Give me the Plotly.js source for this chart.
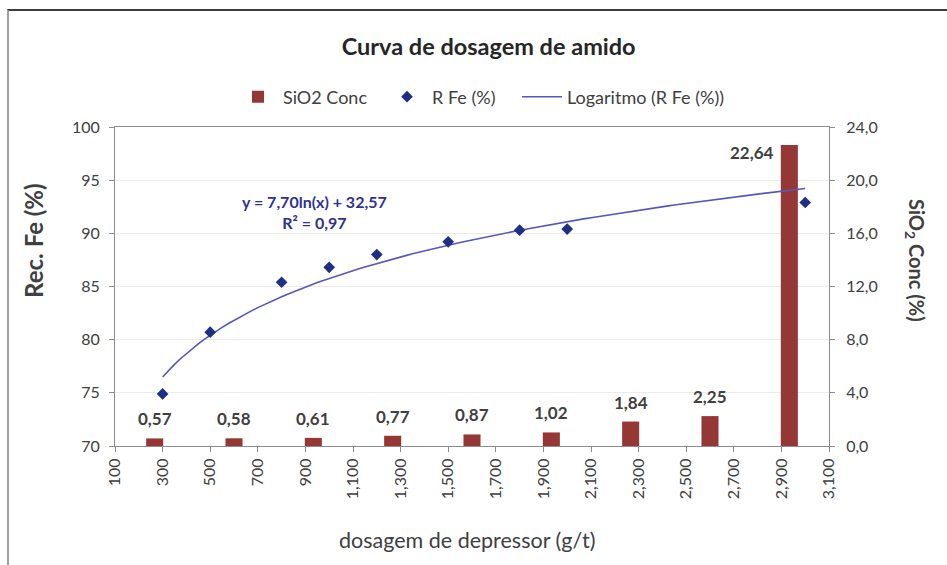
<!DOCTYPE html>
<html>
<head>
<meta charset="utf-8">
<script src="https://cdn.plot.ly/plotly-3.0.1.min.js"></script>
<style>
  html, body { margin: 0; padding: 0; background: #ffffff; }
  #chart { width: 947px; height: 565px; }
  #frame { position: absolute; left: 7px; top: 9px; width: 945px; height: 560px;
           border-top: 2px solid #3c3c3c; border-left: 2px solid #a0a0a0; pointer-events: none; }
</style>
</head>
<body>
<div id="chart"></div>
<div id="frame"></div>
<script>
// ---- data ----
const dosages = [300, 500, 800, 1000, 1200, 1500, 1800, 2000, 3000];
const recFe = [74.9, 80.7, 85.4, 86.8, 88.0, 89.2, 90.3, 90.4, 92.9];
const sio2Categories = ['300', '500', '800', '1000', '1200', '1500', '1800', '2000', '3000'];
const sio2Conc = [0.57, 0.58, 0.61, 0.77, 0.87, 1.02, 1.84, 2.25, 22.64];
// logarithmic trendline y = a*ln(x) + b (from the chart's equation)
const trendA = 7.70;
const trendB = 32.57;
const trendR2 = 0.97;
const xTickVals = [100, 300, 500, 700, 900, 1100, 1300, 1500, 1700, 1900, 2100, 2300, 2500, 2700, 2900, 3100];
const xTickText = ['100', '300', '500', '700', '900', '1,100', '1,300', '1,500', '1,700', '1,900', '2,100', '2,300', '2,500', '2,700', '2,900', '3,100'];
const y2TickVals = [0, 4, 8, 12, 16, 20, 24];
const y2TickText = ['0,0', '4,0', '8,0', '12,0', '16,0', '20,0', '24,0'];

const trendX = [];
for (let x = dosages[0]; x <= dosages[dosages.length - 1]; x += 25) trendX.push(x);
const trendY = trendX.map(x => trendA * Math.log(x) + trendB);

const FONT = 'Lato, "Open Sans", sans-serif';
const TXT = '#404040';
const comma = v => v.toFixed(2).replace('.', ',');

const traces = [
  {
    type: 'bar', name: 'SiO2 Conc', x: sio2Categories, y: sio2Conc,
    xaxis: 'x', yaxis: 'y', marker: { color: '#953735' }, legend: 'legend'
  },
  {
    type: 'scatter', mode: 'lines', name: 'Logaritmo (R Fe (%))', x: trendX, y: trendY,
    xaxis: 'x2', yaxis: 'y2', line: { color: '#5656c0', width: 1.6 }, legend: 'legend3'
  },
  {
    type: 'scatter', mode: 'markers', name: 'R Fe (%)', x: dosages, y: recFe,
    xaxis: 'x2', yaxis: 'y2', marker: { symbol: 'diamond', size: 9, color: '#1f2f86' }, legend: 'legend2'
  }
];

const annotations = sio2Categories.map((c, i) => {
  const last = i === sio2Categories.length - 1;
  return {
    xref: 'x', yref: 'y', x: i, y: sio2Conc[i],
    text: comma(sio2Conc[i]),
    showarrow: false,
    font: { family: FONT, size: 17, color: TXT, weight: 'bold' },
    xanchor: last ? 'right' : 'center',
    yanchor: last ? 'top' : 'bottom',
    xshift: last ? -13 : 0,
    yshift: last ? 5 : 7
  };
});
annotations.push({
  xref: 'paper', yref: 'paper', x: 0.28, y: 0.733, xanchor: 'center', yanchor: 'middle',
  text: 'y = ' + comma(trendA) + 'ln(x) + ' + comma(trendB) + '<br>R² = ' + comma(trendR2),
  showarrow: false, align: 'center',
  font: { family: FONT, size: 16, color: '#2e3192', weight: 'bold' }
});
annotations.push({
  xref: 'paper', yref: 'paper', x: 1.1204, y: 0.58, xanchor: 'center', yanchor: 'middle',
  text: 'SiO<sub>2</sub> Conc (%)', textangle: 90, showarrow: false,
  font: { family: FONT, size: 20, color: TXT, weight: 'bold' }
});
annotations.push({
  xref: 'paper', yref: 'paper', x: -0.1134, y: 0.643, xanchor: 'center', yanchor: 'middle',
  text: 'Rec. Fe (%)', textangle: -90, showarrow: false,
  font: { family: FONT, size: 24, color: TXT, weight: 'bold' }
});
annotations.push({
  xref: 'paper', yref: 'paper', x: 0.493, y: -0.2947, xanchor: 'center', yanchor: 'middle',
  text: 'dosagem de depressor (g/t)', showarrow: false,
  font: { family: FONT, size: 21.5, color: TXT }
});

function legendAt(px) {
  return {
    orientation: 'h', x: (px - 115) / 714, xanchor: 'left', y: 1.094, yanchor: 'middle',
    font: { family: FONT, size: 18, color: TXT }, itemwidth: 40, bgcolor: 'rgba(0,0,0,0)'
  };
}

const layout = {
  width: 947, height: 565,
  margin: { l: 115, r: 118, t: 127, b: 119 },
  paper_bgcolor: '#ffffff', plot_bgcolor: '#ffffff',
  font: { family: FONT, color: TXT, size: 16 },
  title: {
    text: 'Curva de dosagem de amido', x: 0.516, xanchor: 'center', y: 0.917, yanchor: 'middle',
    font: { family: FONT, size: 23.5, color: '#262626', weight: 'bold' }
  },
  showlegend: true,
  legend: legendAt(233),
  legend2: legendAt(382),
  legend3: legendAt(517),
  bargap: 0.785,
  xaxis: {
    type: 'category', range: [-0.5, 8.5], showticklabels: false, ticks: '', showgrid: false,
    zeroline: false, showline: false
  },
  yaxis: {
    side: 'right', range: [0, 24], tickvals: y2TickVals, ticktext: y2TickText,
    showgrid: false, zeroline: false, showline: true, linecolor: '#8c8c8c', linewidth: 1,
    ticks: 'outside', ticklen: 5, tickcolor: '#8c8c8c', ticklabelstandoff: 8,
    tickfont: { family: FONT, size: 16, color: TXT }
  },
  xaxis2: {
    overlaying: 'x', anchor: 'y2', side: 'bottom', type: 'linear', range: [100, 3100],
    tickvals: xTickVals, ticktext: xTickText, tickangle: -90,
    ticks: 'outside', ticklen: 5, tickcolor: '#8c8c8c',
    showline: true, mirror: true, linecolor: '#8c8c8c', linewidth: 1,
    showgrid: false, zeroline: false,
    tickfont: { family: FONT, size: 16, color: TXT }
  },
  yaxis2: {
    overlaying: 'y', anchor: 'x2', side: 'left', range: [70, 100], dtick: 5,
    showgrid: true, gridcolor: '#ebebeb', zeroline: false,
    showline: true, linecolor: '#8c8c8c', linewidth: 1,
    ticks: 'outside', ticklen: 5, tickcolor: '#8c8c8c', ticklabelstandoff: 6,
    tickfont: { family: FONT, size: 16, color: TXT }
  },
  annotations: annotations
};

Plotly.newPlot('chart', traces, layout, { displayModeBar: false, staticPlot: true });
</script>
</body>
</html>
